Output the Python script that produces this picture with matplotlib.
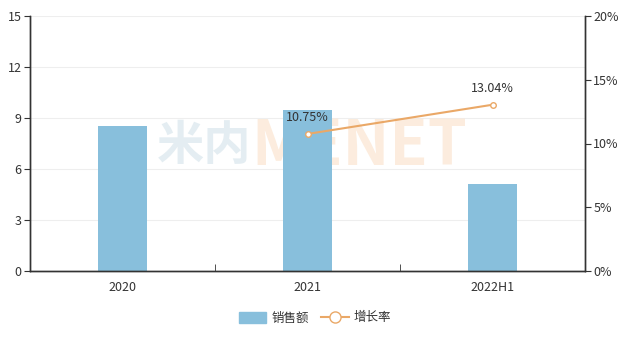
import matplotlib.pyplot as plt
import matplotlib.patches as mpatches
from matplotlib.lines import Line2D
import numpy as np

plt.rcParams['font.family'] = ['Noto Sans CJK SC', 'DejaVu Sans']

categories = ['2020', '2021', '2022H1']
sales = [8.53, 9.47, 5.12]
growth_cats = ['2021', '2022H1']
growth = [10.75, 13.04]

bar_color = '#88bfdc'
line_color = '#eaa867'
text_color = '#333333'
axis_color = '#333333'

fig = plt.figure(figsize=(6.33, 3.39), dpi=100)
ax = fig.add_axes([30/633, 1-271/339, 555/633, 255/339])
ax2 = ax.twinx()

x = np.arange(len(categories))
ax.bar(x, sales, width=0.27, color=bar_color, zorder=2)
ax.set_xlim(-0.5, 2.5)
ax.set_ylim(0, 15)
ax.set_yticks([0, 3, 6, 9, 12, 15])
ax.grid(axis='y', color='#eeeeee', linewidth=0.8, zorder=0)
ax.set_axisbelow(True)
ax.set_xticks(x, labels=categories)
ax.set_xticks([-0.5, 0.5, 1.5, 2.5], minor=True)
ax.tick_params(axis='x', which='major', length=0, pad=7, labelsize=9, labelcolor=text_color)
ax.tick_params(axis='x', which='minor', length=5, color=axis_color, direction='in')
ax.tick_params(axis='y', length=4, color=axis_color, labelsize=9, labelcolor=text_color, pad=2)

# watermark
ax.text(0.398, 0.49, '米内', transform=ax.transAxes, fontsize=34, fontweight='bold',
        color='#dce8ee', alpha=0.75, ha='right', va='center', zorder=1)
ax.text(0.398, 0.49, 'MENET', transform=ax.transAxes, fontsize=45, fontweight='bold',
        color='#fbe6d3', alpha=0.75, ha='left', va='center', zorder=1)

gx = [categories.index(c) for c in growth_cats]
ax2.plot(gx, growth, color=line_color, linewidth=1.5, marker='o', markersize=4,
         markerfacecolor='white', markeredgecolor=line_color, zorder=3)
for xi, g in zip(gx, growth):
    ax2.annotate(f'{g:.2f}%', (xi, g), xytext=(0, 7), textcoords='offset points',
                 ha='center', va='bottom', fontsize=9, color=text_color)
ax2.set_ylim(0, 20)
ax2.set_yticks([0, 5, 10, 15, 20], labels=['0%', '5%', '10%', '15%', '20%'])
ax2.tick_params(axis='y', length=4, color=axis_color, labelsize=9, labelcolor=text_color, pad=2)

for a in (ax, ax2):
    a.spines['top'].set_visible(False)
    for s in ('left', 'right', 'bottom'):
        a.spines[s].set_color(axis_color)
        a.spines[s].set_linewidth(1)

handles = [mpatches.FancyBboxPatch((0, 0), 1, 1, boxstyle='round,pad=0.1', facecolor=bar_color,
                                   edgecolor=bar_color, label='销售额'),
           Line2D([0], [0], color=line_color, marker='o', markersize=8, markerfacecolor='white',
                  markeredgecolor=line_color, linewidth=1.5, label='增长率')]
fig.legend(handles=handles, loc='center', bbox_to_anchor=(315/633, 1-318/339), ncol=2,
           frameon=False, fontsize=9, handlelength=2.2, handleheight=1.0, columnspacing=1.0,
           handletextpad=0.4, labelcolor=text_color)

fig.savefig('out.png', dpi=100)
